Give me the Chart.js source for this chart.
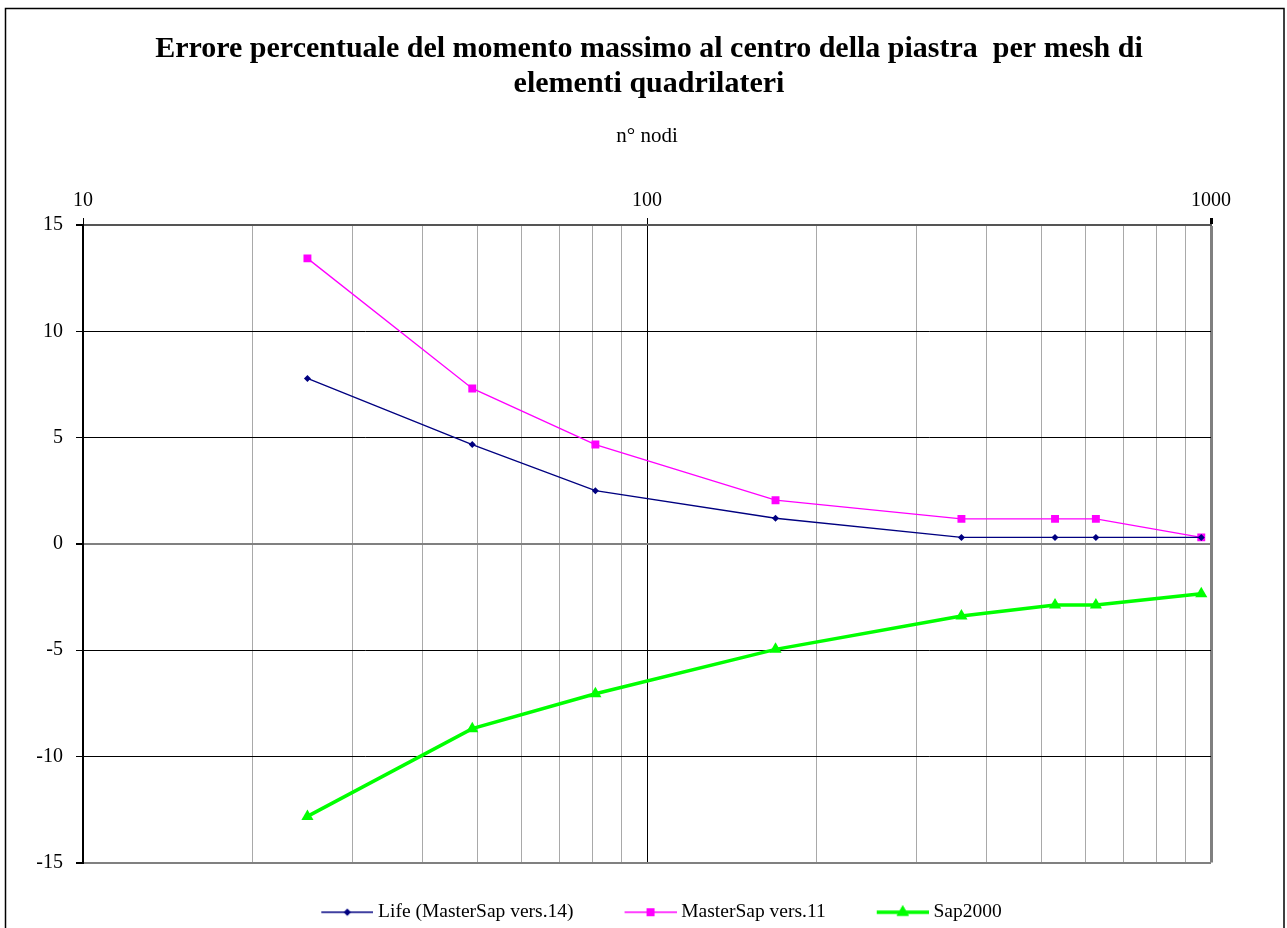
<!DOCTYPE html>
<html>
<head>
<meta charset="utf-8">
<script src="https://cdn.jsdelivr.net/npm/chart.js@4.4.1/dist/chart.umd.min.js"></script>
<style>
  html, body { margin: 0; padding: 0; background: #fff; overflow: hidden; }
  #wrap { position: absolute; left: 0; top: 0; width: 1287px; height: 950px; }
</style>
</head>
<body>
<div id="wrap"><canvas id="c" width="1287" height="950"></canvas></div>
<script>
// ---- data ----
const nodes = [25, 49, 81, 169, 361, 529, 625, 961];
const lifeValues = [7.78, 4.67, 2.5, 1.2, 0.3, 0.3, 0.3, 0.3];
const masterSap11Values = [13.43, 7.31, 4.67, 2.05, 1.17, 1.17, 1.17, 0.3];
const sap2000Values = [-12.83, -8.7, -7.06, -4.97, -3.4, -2.88, -2.88, -2.35];
const seriesNames = ['Life (MasterSap vers.14)', 'MasterSap vers.11', 'Sap2000'];
const xTickValues = [10, 20, 30, 40, 50, 60, 70, 80, 90, 100, 200, 300, 400, 500, 600, 700, 800, 900, 1000];
const xLabelValues = [10, 100, 1000];
const titleLines = ['Errore percentuale del momento massimo al centro della piastra  per mesh di', 'elementi quadrilateri'];
const xAxisTitle = 'n° nodi';

const FONT = "'Liberation Serif', 'Times New Roman', serif";
Chart.defaults.font.family = FONT;
Chart.defaults.color = '#000';

const pts = vals => nodes.map((n, i) => ({ x: n, y: vals[i] }));

const styles = [
  { color: '#000080', width: 1.3, point: 'rectRot', r: 3.5 },
  { color: '#FF00FF', width: 1.3, point: 'rect', r: 5.6 },
  { color: '#00FF00', width: 3.5, point: 'triangle', r: 7 }
];

// legend sample images: line + marker
const BOXW = 88;
function legendImage(st) {
  const w = BOXW + 10, h = 18;
  const cv = document.createElement('canvas');
  cv.width = w; cv.height = h;
  const c = cv.getContext('2d');
  const x0 = w - 52, x1 = w, y = h / 2;
  c.strokeStyle = st.color;
  c.lineWidth = st.width;
  c.beginPath(); c.moveTo(x0, y); c.lineTo(x1, y); c.stroke();
  c.fillStyle = st.color;
  Chart.helpers.drawPoint(c, { pointStyle: st.point, radius: st.r, borderWidth: 0 }, (x0 + x1) / 2, y);
  c.fill();
  return cv;
}

const datasets = [lifeValues, masterSap11Values, sap2000Values].map((vals, i) => ({
  label: seriesNames[i],
  data: pts(vals),
  borderColor: styles[i].color,
  backgroundColor: styles[i].color,
  borderWidth: styles[i].width,
  pointStyle: styles[i].point,
  pointRadius: styles[i].r,
  pointBorderWidth: 0,
  pointBackgroundColor: styles[i].color,
  tension: 0,
  xAxisID: 'x',
  yAxisID: 'y'
}));

const framePlugin = {
  id: 'frame',
  afterLayout(chart) {
    if (chart.legend) { chart.legend.left -= 8; chart.legend.right -= 8; }
  },
  afterDraw(chart) {
    const ctx = chart.ctx;
    ctx.save();
    ctx.strokeStyle = '#000';
    ctx.lineWidth = 1.5;
    ctx.strokeRect(5.5, 8.5, 1278.5, 960);
    ctx.restore();
  }
};

new Chart(document.getElementById('c'), {
  type: 'line',
  data: { datasets },
  plugins: [framePlugin],
  options: {
    responsive: false,
    animation: false,
    layout: { padding: { left: 11, right: 0, top: 0, bottom: 18 } },
    plugins: {
      tooltip: { enabled: false },
      title: {
        display: true,
        text: titleLines,
        color: '#000',
        font: { family: FONT, size: 30, weight: 'bold', lineHeight: 1.147 },
        padding: { top: 32.3, bottom: 0 }
      },
      legend: {
        display: true,
        position: 'bottom',
        labels: {
          usePointStyle: true,
          pointStyleWidth: BOXW,
          padding: 10,
          color: '#000',
          font: { family: FONT, size: 19.5 },
          generateLabels(chart) {
            return chart.data.datasets.map((ds, i) => ({
              text: ds.label,
              pointStyle: legendImage(styles[i]),
              fillStyle: ds.borderColor,
              strokeStyle: ds.borderColor,
              lineWidth: 0,
              hidden: false,
              datasetIndex: i,
              fontColor: '#000'
            }));
          }
        }
      }
    },
    scales: {
      x: {
        type: 'logarithmic',
        position: 'top',
        min: 10,
        max: 1000,
        afterBuildTicks(scale) {
          scale.ticks = xTickValues.map(v => ({ value: v, major: xLabelValues.includes(v) }));
        },
        afterFit(scale) { scale.height = 123.9; },
        ticks: {
          autoSkip: false,
          maxRotation: 0,
          minRotation: 0,
          padding: 5.75,
          font: { family: FONT, size: 20 },
          color: '#000',
          callback: v => xLabelValues.includes(v) ? String(v) : ''
        },
        grid: {
          drawTicks: true,
          tickLength: 7,
          color: ctx => {
            const v = ctx.tick && ctx.tick.value;
            if (v === 1000) return '#808080';
            if (v === 100 || v === 10) return '#000';
            return '#a9a9a9';
          },
          lineWidth: ctx => (ctx.tick && ctx.tick.value === 1000) ? 3 : 1,
          tickColor: ctx => (ctx.tick && xLabelValues.includes(ctx.tick.value)) ? '#000' : 'rgba(0,0,0,0)'
        },
        border: { display: true, color: '#555', width: 2 },
        title: {
          display: true,
          text: xAxisTitle,
          color: '#000',
          font: { family: FONT, size: 21, lineHeight: 1.2 },
          padding: { top: 22.8, bottom: 0 }
        }
      },
      y: {
        type: 'linear',
        position: 'left',
        min: -15,
        max: 15,
        afterFit(scale) { scale.width = 72; },
        ticks: {
          stepSize: 5,
          padding: 13,
          font: { family: FONT, size: 20 },
          color: '#000'
        },
        grid: {
          drawTicks: true,
          tickLength: 7,
          tickColor: '#000',
          color: ctx => {
            const v = ctx.tick && ctx.tick.value;
            return (v === 0 || Math.abs(v) === 15) ? '#808080' : '#000';
          },
          lineWidth: ctx => {
            const v = ctx.tick && ctx.tick.value;
            return (v === 0 || Math.abs(v) === 15) ? 2 : 1;
          }
        },
        border: { display: true, color: '#000', width: 2 }
      },
      yr: {
        type: 'linear',
        position: 'right',
        display: true,
        min: 0, max: 1,
        afterFit(scale) { scale.width = 76; },
        grid: { display: false, drawTicks: false },
        ticks: { display: false },
        border: { display: false }
      },
      xb: {
        type: 'linear',
        position: 'bottom',
        display: true,
        min: 0, max: 1,
        afterFit(scale) { scale.height = 30; },
        grid: { display: false, drawTicks: false },
        ticks: { display: false },
        border: { display: false }
      }
    }
  }
});
</script>
</body>
</html>
